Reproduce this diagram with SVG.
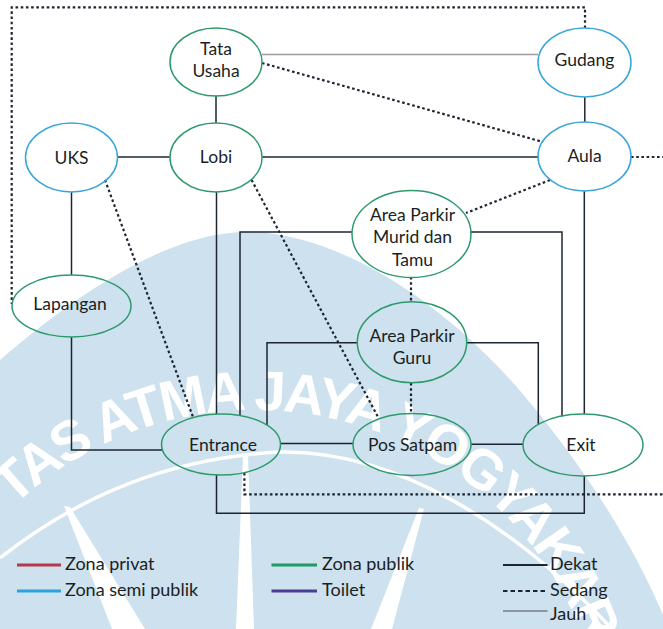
<svg xmlns="http://www.w3.org/2000/svg" width="663" height="629" viewBox="0 0 663 629">
  <defs>
    <style>
      .lbl { font-family: Lato, "Liberation Sans", sans-serif; font-size: 17.5px; fill: #1b1f24; text-anchor: middle; }
      .leg { font-family: Lato, "Liberation Sans", sans-serif; font-size: 18px; fill: #1b1f24; }
      .pub { fill: none; stroke: #2e9a6c; stroke-width: 1.5; }
      .semi { fill: none; stroke: #3aa6d8; stroke-width: 1.5; }
      .near { fill: none; stroke: #1c2630; stroke-width: 1.5; }
      .mid { fill: none; stroke: #1c2630; stroke-width: 2.2; stroke-dasharray: 2.6 2.6; }
      .far { fill: none; stroke: #9c9c9c; stroke-width: 1.3; }
      .wm { font-family: "Liberation Sans", sans-serif; font-size: 56px; font-weight: bold; letter-spacing: -3px; fill: #ffffff; }
    </style>
    <path id="wmArc" d="M -48.1 585 A 350 350 0 0 1 605 760"/>
  </defs>

  <rect width="663" height="629" fill="#ffffff"/>

  <!-- background emblem -->
  <g id="watermark">
    <path d="M 0 360 C 70 300 160 236 240 232 C 330 228 450 300 540 415 C 600 490 640 560 663 615 L 663 629 L 0 629 Z" fill="#cde1ee"/>
    <path d="M 0 558 C 80 495 170 458 280 452 C 400 450 520 530 612 629" fill="none" stroke="#ffffff" stroke-width="3.5"/>
    <polygon points="64,506 70,507 145,629 112,629" fill="#ffffff"/>
    <polygon points="243,455 248,455 254,629 236,629" fill="#ffffff"/>
    <polygon points="419,508 424,509 392,629 371,629" fill="#ffffff"/>
    <text class="wm"><textPath href="#wmArc" startOffset="100">TAS ATMA JAYA YOGYAKARTA</textPath></text>
  </g>

  <!-- connectors -->
  <g id="connectors">
    <!-- Dekat -->
    <line class="near" x1="216" y1="96" x2="216" y2="123"/>
    <line class="near" x1="117.5" y1="157" x2="170" y2="157"/>
    <line class="near" x1="262" y1="157" x2="538.5" y2="157"/>
    <line class="near" x1="584.8" y1="97" x2="584.8" y2="122"/>
    <line class="near" x1="584.3" y1="191" x2="584.3" y2="414"/>
    <line class="near" x1="71.5" y1="192" x2="71.5" y2="275"/>
    <polyline class="near" points="71.5,337 71.5,450 162.5,450"/>
    <line class="near" x1="216.5" y1="192" x2="216.5" y2="414"/>
    <polyline class="near" points="240,416 240,232 352,232"/>
    <polyline class="near" points="470,232 562,232 562,416.5"/>
    <polyline class="near" points="267,425 267,342.7 357.5,342.7"/>
    <polyline class="near" points="467,342.7 538.3,342.7 538.3,425"/>
    <line class="near" x1="280.5" y1="443.5" x2="353" y2="443.5"/>
    <line class="near" x1="471" y1="444.3" x2="523" y2="444.3"/>
    <polyline class="near" points="584.3,476 584.3,513.3 216.5,513.3 216.5,475"/>
    <!-- Sedang -->
    <polyline class="mid" points="585,28 585,7.3 11.7,7.3 11.7,304"/>
    <line class="mid" x1="262" y1="63" x2="543" y2="142"/>
    <line class="mid" x1="631" y1="157" x2="663" y2="157"/>
    <line class="mid" x1="550" y1="180" x2="466" y2="213"/>
    <line class="mid" x1="105" y1="180" x2="193" y2="417"/>
    <line class="mid" x1="251.6" y1="180" x2="378" y2="417"/>
    <line class="mid" x1="411" y1="277" x2="411" y2="302"/>
    <line class="mid" x1="411" y1="383" x2="411" y2="413"/>
    <polyline class="mid" points="244.4,473 244.4,494.3 663,494.3"/>
    <!-- Jauh -->
    <line class="far" x1="262" y1="54.5" x2="538" y2="54.5"/>
  </g>

  <!-- nodes -->
  <g id="tata-usaha">
    <ellipse class="pub" cx="216" cy="62" rx="46" ry="34"/>
    <text class="lbl" x="216" y="55">Tata</text>
    <text class="lbl" x="216" y="77">Usaha</text>
  </g>
  <g id="gudang">
    <ellipse class="semi" cx="584.5" cy="62.5" rx="46.5" ry="34.5"/>
    <text class="lbl" x="584.5" y="66">Gudang</text>
  </g>
  <g id="uks">
    <ellipse class="semi" cx="71.5" cy="157.5" rx="46" ry="34.5"/>
    <text class="lbl" x="71.5" y="164">UKS</text>
  </g>
  <g id="lobi">
    <ellipse class="pub" cx="216" cy="157.5" rx="46" ry="34.5"/>
    <text class="lbl" x="216" y="163">Lobi</text>
  </g>
  <g id="aula">
    <ellipse class="semi" cx="584.5" cy="156.5" rx="46.5" ry="34.5"/>
    <text class="lbl" x="584.5" y="162">Aula</text>
  </g>
  <g id="area-parkir-murid">
    <ellipse class="pub" cx="411.5" cy="234" rx="59.5" ry="43.5"/>
    <text class="lbl" x="412.5" y="220.5">Area Parkir</text>
    <text class="lbl" x="412.5" y="243">Murid dan</text>
    <text class="lbl" x="412.5" y="266">Tamu</text>
  </g>
  <g id="lapangan">
    <ellipse class="pub" cx="71.5" cy="306" rx="59.5" ry="31"/>
    <text class="lbl" x="70" y="310">Lapangan</text>
  </g>
  <g id="area-parkir-guru">
    <ellipse class="pub" cx="412" cy="342.3" rx="54.7" ry="40.5"/>
    <text class="lbl" x="412" y="341.5">Area Parkir</text>
    <text class="lbl" x="412" y="364">Guru</text>
  </g>
  <g id="entrance">
    <ellipse class="pub" cx="221" cy="444.5" rx="59.5" ry="30.5"/>
    <text class="lbl" x="223" y="451">Entrance</text>
  </g>
  <g id="pos-satpam">
    <ellipse class="pub" cx="412" cy="444.5" rx="59" ry="31"/>
    <text class="lbl" x="412.5" y="451">Pos Satpam</text>
  </g>
  <g id="exit">
    <ellipse class="pub" cx="583" cy="445" rx="60" ry="31"/>
    <text class="lbl" x="581" y="451">Exit</text>
  </g>

  <!-- legend -->
  <g id="legend">
    <line x1="17" y1="565" x2="61" y2="565" stroke="#b5394a" stroke-width="2.8"/>
    <text class="leg" x="65" y="570">Zona privat</text>
    <line x1="17" y1="591" x2="61" y2="591" stroke="#2ba3dc" stroke-width="2.8"/>
    <text class="leg" x="65" y="596">Zona semi publik</text>
    <line x1="271.5" y1="565" x2="317" y2="565" stroke="#1f9a62" stroke-width="2.8"/>
    <text class="leg" x="322" y="570">Zona publik</text>
    <line x1="271.5" y1="591" x2="317" y2="591" stroke="#4a3f94" stroke-width="2.8"/>
    <text class="leg" x="322" y="596">Toilet</text>
    <line x1="503" y1="565" x2="547.5" y2="565" stroke="#1c2630" stroke-width="2"/>
    <text class="leg" x="550" y="570">Dekat</text>
    <line x1="503" y1="591" x2="547.5" y2="591" stroke="#1c2630" stroke-width="2" stroke-dasharray="4.5 3"/>
    <text class="leg" x="550" y="596">Sedang</text>
    <line x1="503" y1="611" x2="547.5" y2="611" stroke="#4a4f55" stroke-width="1"/>
    <text class="leg" x="550" y="620">Jauh</text>
  </g>
</svg>
